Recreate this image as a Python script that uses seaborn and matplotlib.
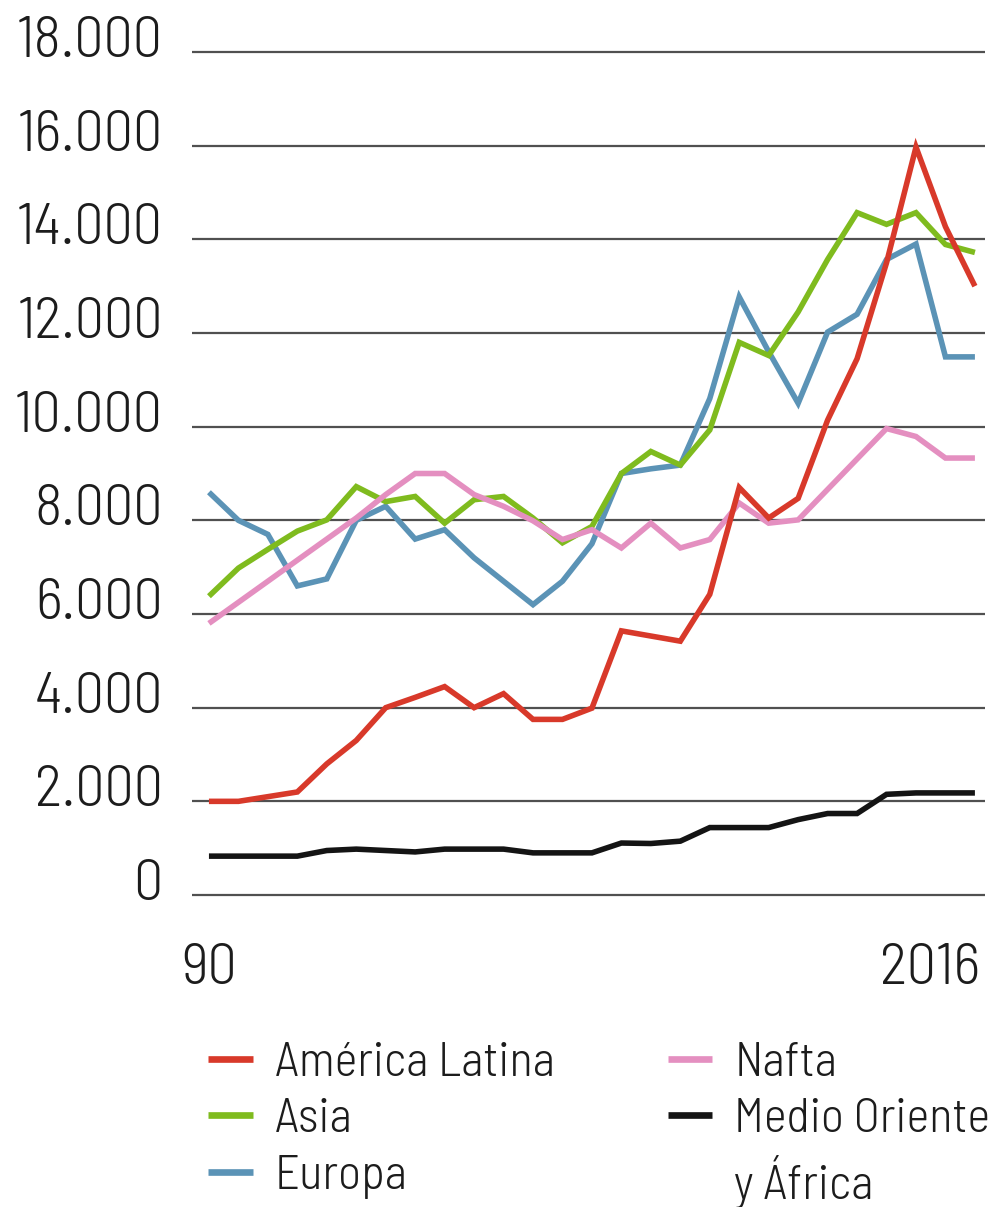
import matplotlib
matplotlib.use("Agg")
import matplotlib.pyplot as plt
import matplotlib.transforms as mtransforms
import pandas as pd
import seaborn as sns
from matplotlib.lines import Line2D
from matplotlib.ticker import FuncFormatter
from matplotlib import font_manager as fm

# ---------------- data ----------------
years = list(range(1990, 2017))
america_latina = [2000, 2000, 2100, 2200, 2800, 3300, 4000, 4220, 4450, 4000,
                  4300, 3750, 3750, 3990, 5640, 5530, 5420, 6420, 8700, 8050,
                  8470, 10140, 11450, 13500, 15970, 14270, 13000]
asia = [6380, 6980, 7380, 7770, 8010, 8720, 8400, 8510, 7940, 8440,
        8510, 8050, 7520, 7870, 9000, 9470, 9180, 9930, 11800, 11520,
        12450, 13570, 14570, 14320, 14570, 13890, 13720]
europa = [8600, 8000, 7700, 6600, 6750, 8000, 8300, 7600, 7800, 7200,
          6700, 6200, 6700, 7500, 9000, 9100, 9180, 10600, 12770, 11600,
          10500, 12020, 12400, 13570, 13900, 11490, 11490]
nafta = [5800, 6250, 6700, 7150, 7600, 8050, 8550, 9000, 9000, 8550,
         8300, 7990, 7590, 7800, 7410, 7940, 7410, 7590, 8370, 7940,
         8010, 8660, 9310, 9960, 9790, 9330, 9330]
medio_oriente_africa = [830, 830, 830, 830, 950, 980, 950, 920, 980, 980,
                        980, 900, 900, 900, 1110, 1100, 1150, 1440, 1440, 1440,
                        1610, 1740, 1740, 2150, 2180, 2180, 2180]

series_names = ["América Latina", "Asia", "Europa", "Nafta", "Medio Oriente y África"]
series_values = [america_latina, asia, europa, nafta, medio_oriente_africa]
legend_labels = ["América Latina", "Asia", "Europa", "Nafta", "Medio Oriente", "y África"]
y_ticks = [0, 2000, 4000, 6000, 8000, 10000, 12000, 14000, 16000, 18000]
x_ticks = [1990, 2016]
x_tick_labels = ["90", "2016"]

colors = {
    "América Latina": "#d8392a",
    "Asia": "#7fbb1e",
    "Europa": "#5b93b6",
    "Nafta": "#e48fc0",
    "Medio Oriente y África": "#141414",
}
draw_order = ["Medio Oriente y África", "Europa", "Asia", "Nafta", "América Latina"]

df = pd.concat(
    [pd.DataFrame({"year": years, "value": vals, "region": name})
     for name, vals in zip(series_names, series_values)],
    ignore_index=True,
)

# ---------------- style ----------------
sns.set_style("white")
available = {f.name for f in fm.fontManager.ttflist}
preferred = ["Barlow Semi Condensed", "Roboto Condensed", "Fira Sans Condensed",
             "Encode Sans Semi Condensed", "Liberation Sans Narrow"]
family = [f for f in preferred if f in available][:1] + ["DejaVu Sans"]
plt.rcParams["font.family"] = family
plt.rcParams["font.weight"] = 300

TXT = "#1c1c1c"
fig = plt.figure(figsize=(10.05, 12.07), dpi=100)
ax = fig.add_axes([0.191, 0.2546, 0.789, 0.7062])

sns.lineplot(data=df, x="year", y="value", hue="region", hue_order=draw_order,
             palette=colors, linewidth=4.0, legend=False, ax=ax,
             solid_capstyle="butt", solid_joinstyle="miter", zorder=3)

ax.set_xlim(1989.423, 2016.339)
ax.set_ylim(-100, 18100)
for s in ax.spines.values():
    s.set_visible(False)
ax.yaxis.grid(True, color="#505050", linewidth=1.6, zorder=1)
ax.xaxis.grid(False)
ax.set_xlabel("")
ax.set_ylabel("")

ax.set_yticks(y_ticks)
ax.yaxis.set_major_formatter(FuncFormatter(lambda v, p: f"{int(v):,}".replace(",", ".")))
ax.tick_params(axis="y", length=0, pad=21, labelsize=42, labelcolor=TXT)
down = mtransforms.ScaledTranslation(0, -5 / 100, fig.dpi_scale_trans)
for lbl in ax.get_yticklabels():
    lbl.set_verticalalignment("baseline")
    lbl.set_transform(lbl.get_transform() + down)

ax.set_xticks(x_ticks, labels=x_tick_labels)
ax.tick_params(axis="x", length=0, pad=31, labelsize=42, labelcolor=TXT)
xl = ax.get_xticklabels()
right = mtransforms.ScaledTranslation(5 / 100, 0, fig.dpi_scale_trans)
xl[-1].set_horizontalalignment("right")
xl[-1].set_transform(xl[-1].get_transform() + right)

# ---------------- legend ----------------
handles = [Line2D([], [], color=colors[n], lw=4.8, solid_capstyle="butt") for n in series_names]
handles.append(Line2D([], [], color="none", lw=4.8))
fig.legend(handles, legend_labels, ncol=2, loc="upper left",
           bbox_to_anchor=(0.207, 0.1370), frameon=False, fontsize=35,
           handlelength=0.92, handletextpad=0.45, columnspacing=2.33,
           labelspacing=0.26, borderpad=0, borderaxespad=0,
           labelcolor=TXT)

fig.savefig("out.png", dpi=100, facecolor="white")
